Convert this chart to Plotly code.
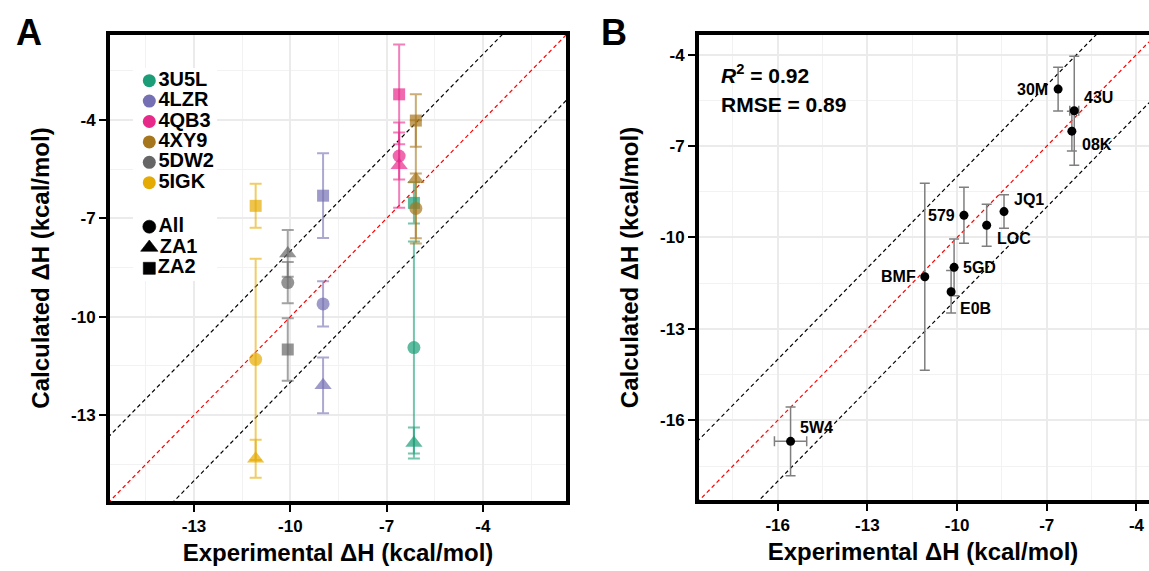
import plotly.graph_objects as go

# ---------------- Panel A: per-ligand results for three pose sets ----------------
ligands = ["3U5L", "4LZR", "4QB3", "4XY9", "5DW2", "5IGK"]
ligand_colors = ["#1B9E77", "#7570B3", "#E7298A", "#A6761D", "#666666", "#E6AB02"]
ligand_err_colors = ["rgba(27,158,119,0.6)", "rgba(117,112,179,0.6)", "rgba(231,41,138,0.6)",
                     "rgba(166,118,29,0.6)", "rgba(102,102,102,0.6)", "rgba(230,171,2,0.6)"]
exp_dh = [-6.15, -8.98, -6.61, -6.09, -10.08, -11.08]

pose_sets = ["All", "ZA1", "ZA2"]
pose_symbols = ["circle", "triangle-up", "square"]
calc_all = [-10.94, -9.61, -5.10, -6.70, -8.96, -11.30]
err_all = [3.23, 0.69, 0.72, 1.07, 0.63, 3.07]
calc_za1 = [-13.85, -12.09, -5.38, -5.81, -8.07, -14.33]
err_za1 = [0.47, 0.85, 1.30, 1.80, 0.71, 0.58]
calc_za2 = [-6.53, -6.31, -3.22, -4.02, -11.00, -6.62]
err_za2 = [0.63, 1.29, 1.52, 0.80, 0.95, 0.67]

# ---------------- Panel B: best estimates per ligand ----------------
b_labels = ["30M", "43U", "08K", "JQ1", "LOC", "579", "5GD", "E0B", "BMF", "5W4"]
b_exp = [-6.62, -6.08, -6.16, -8.43, -9.01, -9.77, -10.10, -10.20, -11.08, -15.57]
b_exp_err = [0, 0.15, 0, 0, 0, 0, 0, 0, 0, 0.54]
b_calc = [-5.13, -5.84, -6.51, -9.15, -9.60, -9.27, -10.98, -11.78, -11.29, -16.69]
b_calc_err = [0.72, 1.79, 0.65, 0.55, 0.69, 0.92, 0.93, 0.70, 3.07, 1.13]
b_r2 = "0.92"
b_rmse = "0.89"

# axis ticks
ticks_a = [-13, -10, -7, -4]
minor_a = [-14.5, -11.5, -8.5, -5.5, -2.5]
ticks_b = [-16, -13, -10, -7, -4]
minor_b = [-17.5, -14.5, -11.5, -8.5, -5.5]
band = 2.0  # +/- kcal/mol guide lines

# ---------------- layout geometry (pixels) ----------------
W, H = 1149, 571
FONT = "Liberation Sans, Arial, sans-serif"
A_X, A_Y = (108, 568), (33, 503)
B_X, B_Y = (697, 1149), (33, 502)
range_a = [-15.68, -1.35]
range_bx = [-18.70, -3.58]
range_by = [-18.68, -3.29]


def fx(px):
    return px / W


def fy(py):
    return 1 - py / H


def axis_style(xdom, rng, ticks, minors, title, standoff, is_x):
    dom = [fx(xdom[0]), fx(xdom[1])] if is_x else [fy(xdom[1]), fy(xdom[0])]
    return dict(
        domain=dom, range=rng, tickmode="array", tickvals=ticks,
        ticktext=[str(t) for t in ticks],
        showgrid=True, gridcolor="#EBEBEB", gridwidth=1.6,
        minor=dict(tickmode="array", tickvals=minors, showgrid=True,
                   gridcolor="#F2F2F2", gridwidth=0.9, ticks=""),
        ticks="outside", ticklen=8, tickwidth=1.5, tickcolor="black",
        tickfont=dict(family=FONT, size=17, color="black", weight="bold"),
        showline=False, zeroline=False, fixedrange=True,
        title=dict(text=title, standoff=standoff,
                   font=dict(family=FONT, size=24, color="black", weight="bold")),
    )


fig = go.Figure()

# guide lines y = x and y = x +/- band in both panels
for xa, ya, rng in (("x", "y", range_a), ("x2", "y2", range_bx)):
    for off, col in ((band, "black"), (-band, "black"), (0.0, "red")):
        fig.add_trace(go.Scatter(
            x=rng, y=[rng[0] + off, rng[1] + off], mode="lines",
            line=dict(color=col, width=1.2, dash="4px,3px"),
            xaxis=xa, yaxis=ya, showlegend=False, hoverinfo="skip"))

# Panel A error bars first, then markers on top
calc_sets = [calc_all, calc_za1, calc_za2]
err_sets = [err_all, err_za1, err_za2]
for i, lig in enumerate(ligands):
    fig.add_trace(go.Scatter(
        x=[exp_dh[i]] * len(pose_sets), y=[c[i] for c in calc_sets], mode="markers",
        marker=dict(size=12, opacity=0),
        error_y=dict(type="data", array=[e[i] for e in err_sets], color=ligand_err_colors[i],
                     thickness=2, width=6),
        xaxis="x", yaxis="y", showlegend=False, hoverinfo="skip"))
for i, lig in enumerate(ligands):
    fig.add_trace(go.Scatter(
        x=[exp_dh[i]] * len(pose_sets), y=[c[i] for c in calc_sets], mode="markers",
        marker=dict(size=[13, 15, 12], symbol=pose_symbols, color=ligand_colors[i],
                    line=dict(width=0)),
        name=lig, xaxis="x", yaxis="y", showlegend=False,
        text=pose_sets, hovertemplate="%{text}: %{x}, %{y}<extra>" + lig + "</extra>"))

# Panel B
fig.add_trace(go.Scatter(
    x=b_exp, y=b_calc, mode="markers",
    marker=dict(size=9, color="black"),
    error_y=dict(type="data", array=b_calc_err, color="#7F7F7F", thickness=1.5, width=5),
    error_x=dict(type="data", array=b_exp_err, color="#7F7F7F", thickness=1.5, width=5),
    xaxis="x2", yaxis="y2", showlegend=False, text=b_labels,
    hovertemplate="%{text}: %{x}, %{y}<extra></extra>"))

# point labels for panel B: (xanchor, xshift, yshift)
label_offsets = [("right", -8, 0), ("left", 8, 13), ("left", 8, -13), ("left", 8, 12),
                 ("left", 8, -13), ("right", -7, 0), ("left", 7, 0), ("left", 7, -17),
                 ("right", -7, 0), ("left", 7, 14)]
annotations = []
for lab, xv, yv, (anc, dx, dy) in zip(b_labels, b_exp, b_calc, label_offsets):
    annotations.append(dict(
        x=xv, y=yv, xref="x2", yref="y2", text=lab, showarrow=False,
        xanchor=anc, yanchor="middle", xshift=dx, yshift=dy,
        font=dict(family=FONT, size=16, color="black", weight="bold")))

annotations += [
    dict(x=fx(719), y=fy(74), xref="paper", yref="paper", xanchor="left", yanchor="middle",
         text="<i>R</i><sup>2</sup> = " + b_r2, showarrow=False,
         font=dict(family=FONT, size=21, color="black", weight="bold")),
    dict(x=fx(719), y=fy(104), xref="paper", yref="paper", xanchor="left", yanchor="middle",
         text="RMSE = " + b_rmse, showarrow=False,
         font=dict(family=FONT, size=21, color="black", weight="bold")),
    dict(x=fx(29), y=fy(33), xref="paper", yref="paper", text="A", showarrow=False,
         xanchor="center", yanchor="middle",
         font=dict(family=FONT, size=36, color="black", weight="bold")),
    dict(x=fx(614), y=fy(33), xref="paper", yref="paper", text="B", showarrow=False,
         xanchor="center", yanchor="middle",
         font=dict(family=FONT, size=36, color="black", weight="bold")),
]

# Legend inside panel A, drawn on an overlay axis measured in pixels from the panel's top-left
leg_x = 41.3
fig.add_trace(go.Scatter(
    x=[leg_x] * len(ligands), y=[47.7 + 20.4 * k for k in range(len(ligands))],
    mode="markers+text", text=ligands, textposition="middle right",
    textfont=dict(family=FONT, size=20, color="black", weight="bold"),
    marker=dict(size=13, color=ligand_colors, opacity=1),
    xaxis="x3", yaxis="y3", showlegend=False, hoverinfo="skip"))
fig.add_trace(go.Scatter(
    x=[leg_x] * len(pose_sets), y=[193.7 + 20.8 * k for k in range(len(pose_sets))],
    mode="markers+text", text=pose_sets, textposition="middle right",
    textfont=dict(family=FONT, size=20, color="black", weight="bold"),
    marker=dict(size=[13, 15, 12], symbol=pose_symbols, color="#000000", opacity=1,
                line=dict(width=0.6, color="#000000")),
    xaxis="x3", yaxis="y3", showlegend=False, hoverinfo="skip"))


def a_data_x(px):
    return range_a[0] + (px - A_X[0]) / (A_X[1] - A_X[0]) * (range_a[1] - range_a[0])


def a_data_y(py):
    return range_a[1] - (py - A_Y[0]) / (A_Y[1] - A_Y[0]) * (range_a[1] - range_a[0])


shapes = [
    # white backing behind the legend
    dict(type="rect", xref="x", yref="y", layer="between",
         x0=a_data_x(133), x1=a_data_x(217), y0=a_data_y(68), y1=a_data_y(281),
         fillcolor="white", line=dict(width=0)),
    # panel A frame
    dict(type="rect", xref="paper", yref="paper", x0=fx(A_X[0]), x1=fx(A_X[1]),
         y0=fy(A_Y[1]), y1=fy(A_Y[0]), line=dict(color="black", width=4), layer="above"),
    # panel B frame (right side runs past the page edge)
    dict(type="line", xref="paper", yref="paper", x0=fx(B_X[0]), x1=1.01,
         y0=fy(B_Y[0]), y1=fy(B_Y[0]), line=dict(color="black", width=4), layer="above"),
    dict(type="line", xref="paper", yref="paper", x0=fx(B_X[0]), x1=1.01,
         y0=fy(B_Y[1]), y1=fy(B_Y[1]), line=dict(color="black", width=4), layer="above"),
    dict(type="line", xref="paper", yref="paper", x0=fx(B_X[0]), x1=fx(B_X[0]),
         y0=fy(B_Y[1]) - 2 / H, y1=fy(B_Y[0]) + 2 / H, line=dict(color="black", width=4),
         layer="above"),
]

fig.update_layout(
    width=W, height=H, autosize=False,
    margin=dict(l=0, r=0, t=0, b=0),
    paper_bgcolor="white", plot_bgcolor="white",
    font=dict(family=FONT, color="black"),
    xaxis=axis_style(A_X, range_a, ticks_a, minor_a, "Experimental ΔH (kcal/mol)", 8, True),
    yaxis=axis_style(A_Y, range_a, ticks_a, minor_a, "Calculated ΔH (kcal/mol)", 14, False),
    xaxis2=axis_style(B_X, range_bx, ticks_b, minor_b, "Experimental ΔH (kcal/mol)", 8, True),
    yaxis2=axis_style(B_Y, range_by, ticks_b, minor_b, "Calculated ΔH (kcal/mol)", 14, False),
    xaxis3=dict(domain=[fx(A_X[0]), fx(A_X[1])], range=[0, A_X[1] - A_X[0]],
                overlaying="x", visible=False, fixedrange=True),
    yaxis3=dict(domain=[fy(A_Y[1]), fy(A_Y[0])], range=[A_Y[1] - A_Y[0], 0],
                overlaying="y", visible=False, fixedrange=True),
    annotations=annotations,
    shapes=shapes,
    showlegend=False,
)
fig.update_layout(xaxis=dict(anchor="y"), yaxis=dict(anchor="x"),
                  xaxis2=dict(anchor="y2"), yaxis2=dict(anchor="x2"),
                  xaxis3=dict(anchor="y3"), yaxis3=dict(anchor="x3"))

fig.write_html("out.html")
